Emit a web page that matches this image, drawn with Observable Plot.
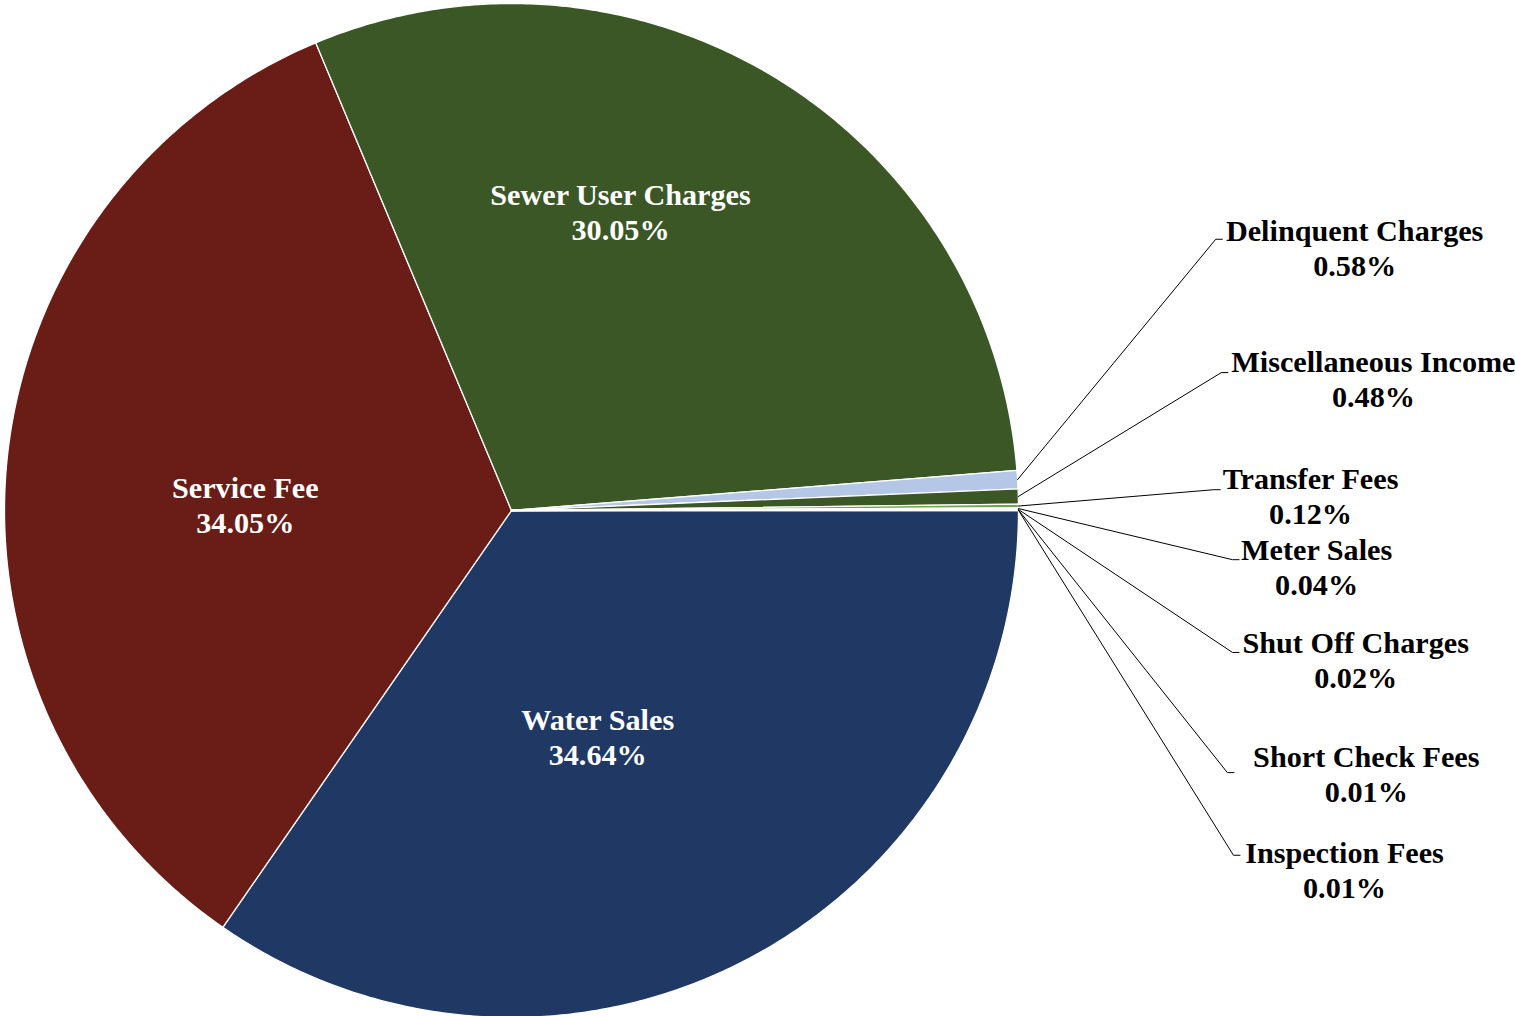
<!DOCTYPE html>
<html>
<head>
<meta charset="utf-8">
<script src="https://cdn.jsdelivr.net/npm/d3@7"></script>
<script src="https://cdn.jsdelivr.net/npm/@observablehq/plot@0.6"></script>
<style>
  html, body { margin: 0; padding: 0; background: #ffffff; }
  #chart svg { display: block; }
</style>
</head>
<body>
<div id="chart"></div>
<script>
// Revenue sources, in the order the slices run clockwise from 3 o'clock
const categories = [
  "Water Sales", "Service Fee", "Sewer User Charges", "Delinquent Charges",
  "Miscellaneous Income", "Transfer Fees", "Meter Sales", "Shut Off Charges",
  "Short Check Fees", "Inspection Fees"
];
const shares = [34.64, 34.05, 30.05, 0.58, 0.48, 0.12, 0.04, 0.02, 0.01, 0.01];
const sliceColors = [
  "#203864", "#6a1c16", "#3b5726", "#b4c7e7",
  "#3b5726", "#6fa650", "#a9d18e", "#d9d9d9",
  "#8faadc", "#f4b183"
];

// Which slices carry their label inside the pie
const insideLabels = ["Water Sales", "Service Fee", "Sewer User Charges"];

// Label placement, in pie-radius units from the centre
const insideSpots = {
  "Water Sales": [0.170, 0.446],
  "Service Fee": [-0.525, -0.012],
  "Sewer User Charges": [0.215, -0.590]
};
// callout: [label centre x, label centre y, elbow x, elbow y]
const calloutSpots = {
  "Delinquent Charges":   [1.663, -0.520, 1.389, -0.535],
  "Miscellaneous Income": [1.700, -0.261, 1.400, -0.272],
  "Transfer Fees":        [1.576, -0.030, 1.385, -0.041],
  "Meter Sales":          [1.588,  0.110, 1.422,  0.097],
  "Shut Off Charges":     [1.665,  0.293, 1.422,  0.280],
  "Short Check Fees":     [1.686,  0.518, 1.412,  0.517],
  "Inspection Fees":      [1.643,  0.707, 1.424,  0.680]
};

const W = 1515, H = 1016;
const cx = 511, cy = 510, R = 507;   // pie centre and radius in pixels
const tick = 0.013;                   // short horizontal end of each leader

const total = d3.sum(shares);
const fmt = v => v.toFixed(2) + "%";

// Angular extent of each slice (radians, clockwise on screen from east)
let acc = 0;
const slices = categories.map((name, i) => {
  const a0 = acc / total * 2 * Math.PI;
  acc += shares[i];
  const a1 = acc / total * 2 * Math.PI;
  return {name, value: shares[i], a0, a1, mid: (a0 + a1) / 2};
});

// Outline of each slice: centre, arc, back to centre
const outline = slices.flatMap(s => {
  const n = Math.max(2, Math.ceil((s.a1 - s.a0) * 180 / Math.PI * 2));
  const pts = [{name: s.name, x: 0, y: 0}];
  for (let k = 0; k <= n; ++k) {
    const a = s.a0 + (s.a1 - s.a0) * k / n;
    pts.push({name: s.name, x: Math.cos(a), y: Math.sin(a)});
  }
  pts.push({name: s.name, x: 0, y: 0});
  return pts;
});

// Inside labels
const innerText = slices
  .filter(s => insideLabels.includes(s.name))
  .map(s => ({x: insideSpots[s.name][0], y: insideSpots[s.name][1], label: s.name + "\n" + fmt(s.value)}));

// Callout labels and their leader lines
const outer = slices.filter(s => !insideLabels.includes(s.name));
const outerText = outer.map(s => ({
  x: calloutSpots[s.name][0], y: calloutSpots[s.name][1], label: s.name + "\n" + fmt(s.value)
}));
const leaders = outer.flatMap(s => {
  const [, , ex, ey] = calloutSpots[s.name];
  return [
    {name: s.name, x: Math.cos(s.mid), y: Math.sin(s.mid)},
    {name: s.name, x: ex, y: ey},
    {name: s.name, x: ex + tick, y: ey}
  ];
});

const font = "'Liberation Serif', 'Times New Roman', serif";
const labelSize = 30.2;

const chart = Plot.plot({
  width: W,
  height: H,
  margin: 0,
  style: {background: "#ffffff"},
  x: {domain: [-cx / R, (W - cx) / R], range: [0, W], axis: null},
  y: {domain: [-cy / R, (H - cy) / R], range: [0, H], axis: null},
  color: {type: "ordinal", domain: categories, range: sliceColors},
  marks: [
    Plot.line(outline, {
      x: "x", y: "y", z: "name", fill: "name",
      stroke: "#ffffff", strokeWidth: 1.3, strokeLinejoin: "round", curve: "linear"
    }),
    Plot.line(leaders, {
      x: "x", y: "y", z: "name",
      stroke: "#000000", strokeWidth: 1, curve: "linear"
    }),
    Plot.text(innerText, {
      x: "x", y: "y", text: "label",
      fill: "#ffffff", fontFamily: font, fontWeight: "bold", fontSize: labelSize,
      lineHeight: 1.16, textAnchor: "middle"
    }),
    Plot.text(outerText, {
      x: "x", y: "y", text: "label",
      fill: "#000000", fontFamily: font, fontWeight: "bold", fontSize: labelSize,
      lineHeight: 1.16, textAnchor: "middle"
    })
  ]
});

document.getElementById("chart").append(chart);
</script>
</body>
</html>
